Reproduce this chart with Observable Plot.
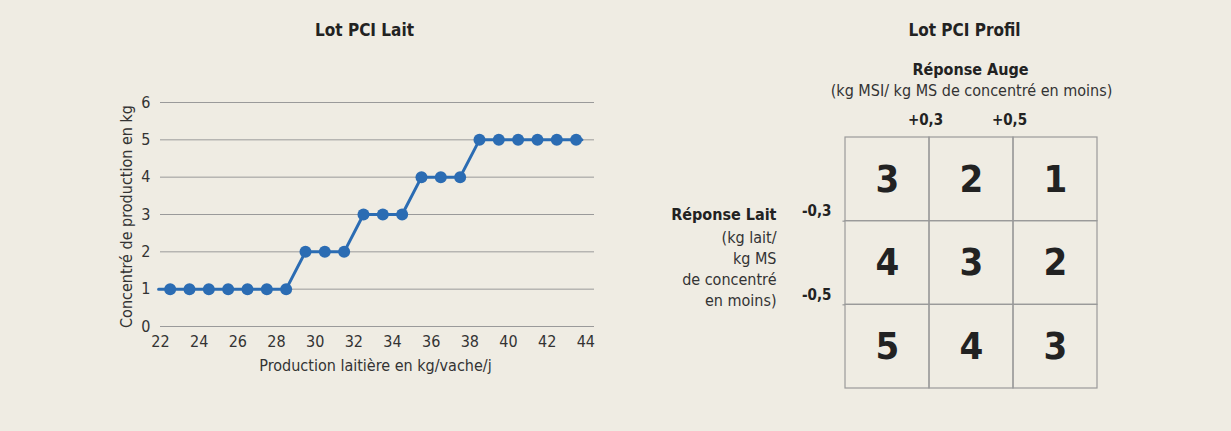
<!DOCTYPE html>
<html>
<head>
<meta charset="utf-8">
<script src="https://cdn.jsdelivr.net/npm/d3@7"></script>
<script src="https://cdn.jsdelivr.net/npm/@observablehq/plot@0.6"></script>
<style>
  html, body { margin: 0; padding: 0; background: #efece3; }
  #wrap { display: flex; width: 1231px; height: 431px; background: #efece3; }
  svg { font-family: "Liberation Sans Narrow", "Arial Narrow", "DejaVu Sans Condensed", "Roboto", sans-serif; }
</style>
</head>
<body>
<div id="wrap"></div>
<script>
// ---------- Left panel data ----------
const milkProduction = [22.5, 23.5, 24.5, 25.5, 26.5, 27.5, 28.5, 29.5, 30.5, 31.5, 32.5,
                        33.5, 34.5, 35.5, 36.5, 37.5, 38.5, 39.5, 40.5, 41.5, 42.5, 43.5];
const concentrate    = [1, 1, 1, 1, 1, 1, 1, 2, 2, 2, 3, 3, 3, 4, 4, 4, 5, 5, 5, 5, 5, 5];
const lineStartX = 21.9, lineEndX = 43.8;        // line extends slightly past first/last dots
const xTicks = [22, 24, 26, 28, 30, 32, 34, 36, 38, 40, 42, 44];
const yTicks = [0, 1, 2, 3, 4, 5, 6];
const leftTitle = "Lot PCI Lait";
const xLabel = "Production laitière en kg/vache/j";
const yLabel = "Concentré de production en kg";

// ---------- Right panel data ----------
const rightTitle = "Lot PCI Profil";
const profileValues = [[3, 2, 1], [4, 3, 2], [5, 4, 3]];
const colThresholds = ["+0,3", "+0,5"];
const rowThresholds = ["-0,3", "-0,5"];
const colHeader = "Réponse Auge";
const colSubheader = "(kg MSI/ kg MS de concentré en moins)";
const rowHeader = "Réponse Lait";
const rowSubheader = "(kg lait/\nkg MS\nde concentré\nen moins)";

const blue = "#2b6cb3";
const ink = "#222";
const grid = "#9a9a9a";

// ---------- Left chart ----------
const pts = milkProduction.map((x, i) => ({x, y: concentrate[i]}));
const linePts = [{x: lineStartX, y: concentrate[0]}, ...pts, {x: lineEndX, y: concentrate[concentrate.length - 1]}];

const left = Plot.plot({
  width: 620, height: 431,
  marginLeft: 160, marginRight: 26, marginTop: 102, marginBottom: 105,
  style: {background: "transparent", fontSize: "16px", color: "#333"},
  x: {domain: [22, 44.45], ticks: xTicks, tickSize: 0, tickPadding: 9, label: null},
  y: {domain: [0, 6], ticks: yTicks, tickFormat: d => String(d), tickSize: 0, tickPadding: 10, label: null},
  marks: [
    Plot.gridY(yTicks, {stroke: grid, strokeOpacity: 1, strokeWidth: 1}),
    Plot.line(linePts, {x: "x", y: "y", stroke: blue, strokeWidth: 3}),
    Plot.dot(pts, {x: "x", y: "y", r: 6, fill: blue, stroke: "none"}),
    Plot.text([leftTitle], {frameAnchor: "top", lineAnchor: "middle", dx: -13, dy: -72, fontSize: 17, fontWeight: "bold", fill: ink}),
    Plot.text([xLabel], {frameAnchor: "bottom", lineAnchor: "middle", dx: -2, dy: 39, fontSize: 16, fill: "#333"}),
    Plot.text([yLabel], {frameAnchor: "left", textAnchor: "middle", lineAnchor: "middle", dx: -34, dy: 2, rotate: -90, fontSize: 16, fill: "#333"})
  ]
});

// ---------- Right chart ----------
const cells = profileValues.flatMap((row, r) => row.map((v, c) => ({r, c, v})));

const right = Plot.plot({
  width: 611, height: 431,
  marginLeft: 225, marginRight: 134, marginTop: 137, marginBottom: 43,
  style: {background: "transparent", fontSize: "16px"},
  x: {domain: [0, 3], axis: null},
  y: {domain: [0, 3], reverse: true, axis: null},
  marks: [
    Plot.rect(cells, {x1: d => d.c, x2: d => d.c + 1, y1: d => d.r, y2: d => d.r + 1, fill: "none", stroke: grid, strokeWidth: 1.2}),
    Plot.ruleY(rowThresholds, {y: (d, i) => i + 1, x1: -0.03, x2: 0, stroke: grid, strokeWidth: 1.2}),
    Plot.text(cells, {x: d => d.c + 0.5, y: d => d.r + 0.5, text: d => String(d.v), fontSize: 38, fontWeight: "bold", fill: ink}),
    Plot.text(colThresholds, {x: (d, i) => i + 1, y: 0, dy: -17, dx: -4, fontSize: 15, fontWeight: "bold", fill: ink}),
    Plot.text(rowThresholds, {x: 0, y: (d, i) => i + 1, dy: -10, dx: -14, textAnchor: "end", fontSize: 15, fontWeight: "bold", fill: ink}),
    Plot.text([rightTitle], {frameAnchor: "top", lineAnchor: "middle", dx: -7, dy: -107, fontSize: 17, fontWeight: "bold", fill: ink}),
    Plot.text([colHeader], {frameAnchor: "top", lineAnchor: "middle", dx: -1, dy: -68, fontSize: 16, fontWeight: "bold", fill: ink}),
    Plot.text([colSubheader], {frameAnchor: "top", lineAnchor: "middle", dx: 0, dy: -47, fontSize: 16, fill: "#333"}),
    Plot.text([rowHeader], {frameAnchor: "top-left", lineAnchor: "middle", dx: -69, dy: 77, textAnchor: "end", fontSize: 16, fontWeight: "bold", fill: ink}),
    Plot.text([rowSubheader], {frameAnchor: "top-left", lineAnchor: "middle", dx: -69, dy: 130, textAnchor: "end", lineHeight: 1.31, fontSize: 16, fill: "#333"})
  ]
});

document.getElementById("wrap").append(left, right);
</script>
</body>
</html>
